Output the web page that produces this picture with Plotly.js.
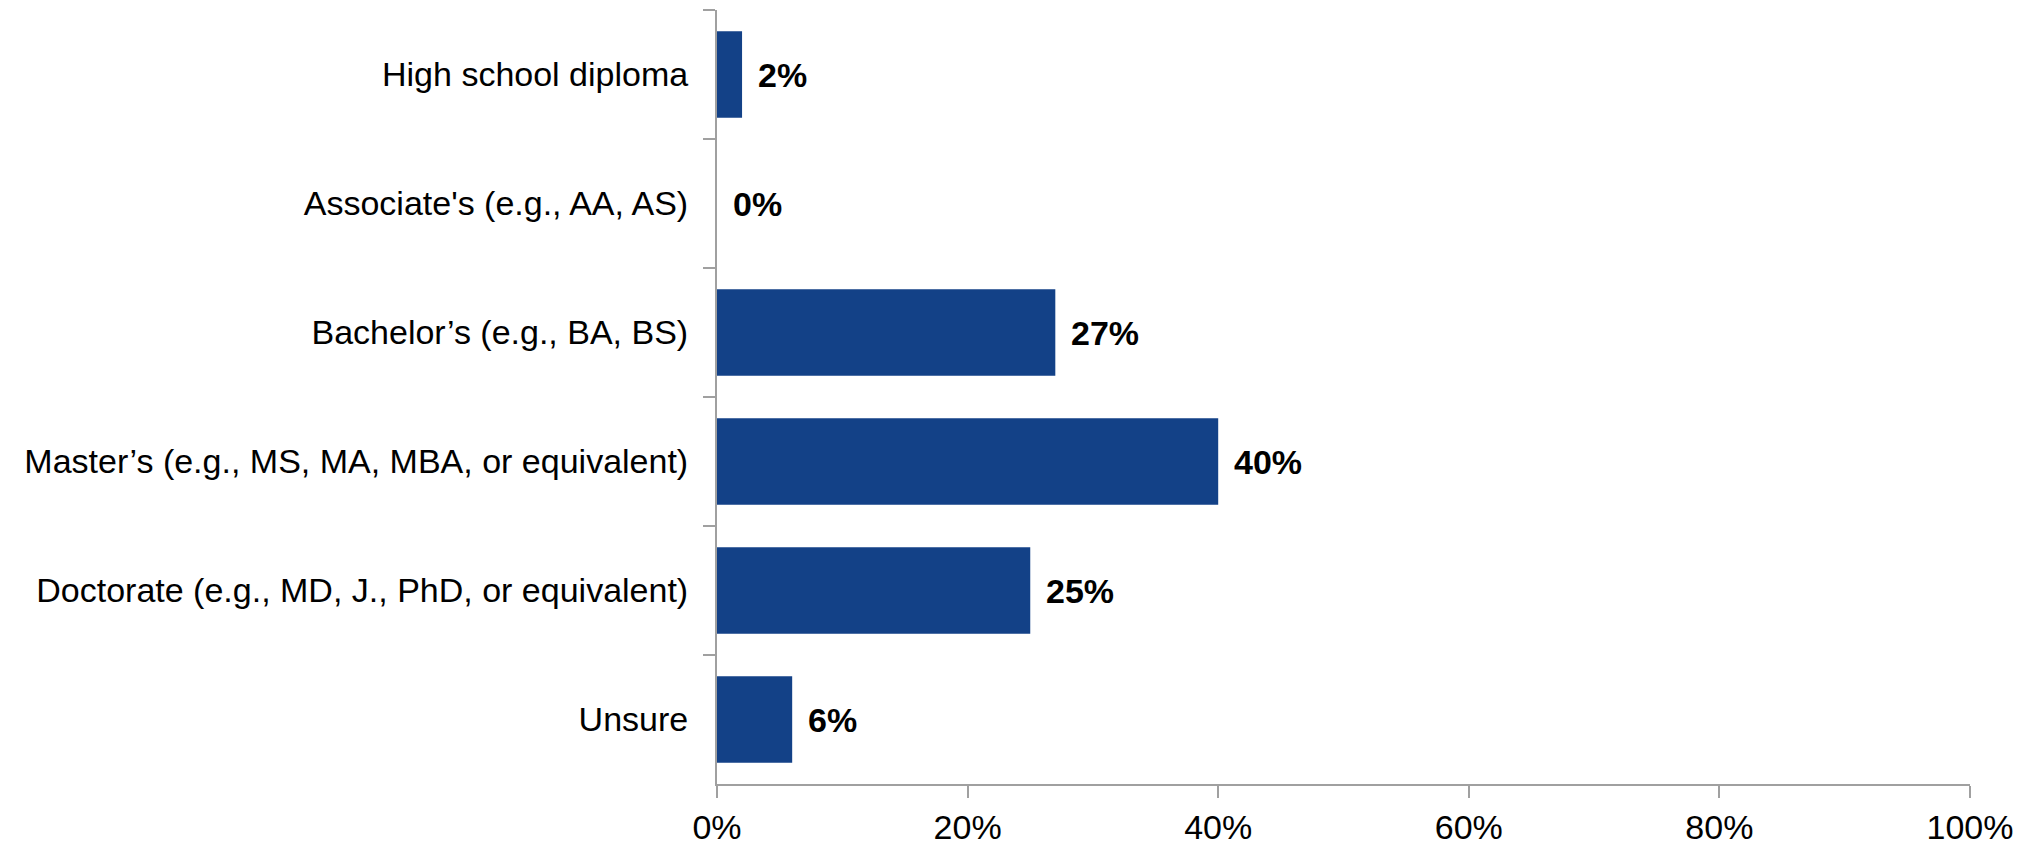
<!DOCTYPE html>
<html>
<head>
<meta charset="utf-8">
<script src="https://cdn.plot.ly/plotly-3.0.1.min.js"></script>
<style>html,body{margin:0;padding:0;background:#fff;}#chart{width:2030px;height:850px;}</style>
</head>
<body>
<div id="chart"></div>
<script>
const categories = [
  "High school diploma",
  "Associate's (e.g., AA, AS)",
  "Bachelor\u2019s (e.g., BA, BS)",
  "Master\u2019s (e.g., MS, MA, MBA, or equivalent)",
  "Doctorate (e.g., MD, J., PhD, or equivalent)",
  "Unsure"
];
const values = [2, 0, 27, 40, 25, 6];
const valueLabels = ["2%", "0%", "27%", "40%", "25%", "6%"];
const xTickValues = [0, 20, 40, 60, 80, 100];
const xTickLabels = ["0%", "20%", "40%", "60%", "80%", "100%"];

const FONT = "'Liberation Sans Narrow', 'Arial Narrow', 'Liberation Sans', sans-serif";

const trace = {
  type: 'bar',
  orientation: 'h',
  y: categories,
  x: values,
  marker: {color: '#134187'},
  hoverinfo: 'skip'
};

const annotations = categories.map((c, i) => ({
  x: values[i], y: c, xref: 'x', yref: 'y',
  text: '<b>' + valueLabels[i] + '</b>',
  showarrow: false, xanchor: 'left', yanchor: 'middle',
  xshift: 14,
  font: {family: FONT, size: 34, color: '#000'}
}));

const layout = {
  width: 2030, height: 850,
  margin: {l: 717, r: 60, t: 10, b: 66},
  paper_bgcolor: '#fff', plot_bgcolor: '#fff',
  bargap: 0.33,
  showlegend: false,
  font: {family: FONT, size: 34, color: '#000'},
  xaxis: {
    range: [0, 100],
    tickvals: xTickValues,
    ticktext: xTickLabels,
    showgrid: false, zeroline: false,
    showline: true, linecolor: '#a0a0a0', linewidth: 2,
    ticks: 'outside', ticklen: 12, tickcolor: '#a0a0a0', tickwidth: 2,
    tickfont: {family: FONT, size: 34, color: '#000'},
    fixedrange: true
  },
  yaxis: {
    autorange: 'reversed',
    type: 'category',
    showgrid: false, zeroline: false,
    showline: true, linecolor: '#a0a0a0', linewidth: 2,
    ticks: 'outside', ticklen: 12, tickcolor: '#a0a0a0', tickwidth: 2,
    tickson: 'boundaries',
    ticklabelstandoff: 20,
    tickfont: {family: FONT, size: 34, color: '#000'},
    fixedrange: true
  },
  annotations: annotations
};

Plotly.newPlot('chart', [trace], layout, {staticPlot: true, displayModeBar: false});
</script>
</body>
</html>
